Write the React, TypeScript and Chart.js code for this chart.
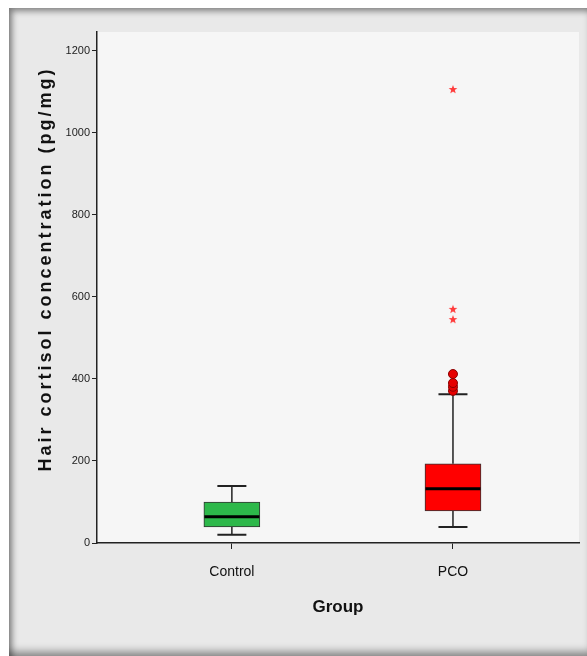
import React, { useEffect, useRef } from "react";
import { Chart, registerables } from "chart.js";

Chart.register(...registerables);

// ---- data ----
const categories = ["Control", "PCO"];
const whiskerMin = [20, 39];
const q1 = [39, 78];
const medians = [64, 132];
const q3 = [100, 193];
const whiskerMax = [139, 363];
const boxColors = ["#2db84a", "#ff0000"];
const circleOutliersPCO = [371, 381, 390, 412];
const starOutliersPCO = [546, 571, 1107];
const yTicks = [0, 200, 400, 600, 800, 1000, 1200];
const yMax = 1246;
const yTitle = "Hair cortisol concentration (pg/mg)";
const xTitle = "Group";

function makeStar(): HTMLCanvasElement {
  const c = document.createElement("canvas");
  const s = 10;
  c.width = s;
  c.height = s;
  const ctx = c.getContext("2d")!;
  ctx.fillStyle = "#ff3b3b";
  ctx.beginPath();
  const cx = s / 2, cy = s / 2 + 0.5, ro = 4.6, ri = 1.9;
  for (let i = 0; i < 10; i++) {
    const r = i % 2 === 0 ? ro : ri;
    const a = -Math.PI / 2 + (i * Math.PI) / 5;
    const px = cx + r * Math.cos(a);
    const py = cy + r * Math.sin(a);
    if (i === 0) ctx.moveTo(px, py);
    else ctx.lineTo(px, py);
  }
  ctx.closePath();
  ctx.fill();
  return c;
}

const boxPlugin = {
  id: "boxExtras",
  beforeDraw(chart: any) {
    const { ctx, chartArea } = chart;
    ctx.save();
    ctx.fillStyle = "#f6f6f6";
    ctx.fillRect(chartArea.left, chartArea.top, chartArea.right - chartArea.left, chartArea.bottom - chartArea.top);
    ctx.restore();
  },
  beforeDatasetsDraw(chart: any) {
    const { ctx } = chart;
    const xs = chart.scales.x;
    const ys = chart.scales.y;
    ctx.save();
    ctx.strokeStyle = "#222";
    categories.forEach((_, i) => {
      const x = xs.getPixelForValue(i + 1);
      ctx.lineWidth = 1.5;
      ctx.beginPath();
      ctx.moveTo(x, ys.getPixelForValue(whiskerMin[i]));
      ctx.lineTo(x, ys.getPixelForValue(q1[i]));
      ctx.moveTo(x, ys.getPixelForValue(q3[i]));
      ctx.lineTo(x, ys.getPixelForValue(whiskerMax[i]));
      ctx.stroke();
      ctx.lineWidth = 2;
      ctx.beginPath();
      [whiskerMin[i], whiskerMax[i]].forEach((v) => {
        const y = ys.getPixelForValue(v);
        ctx.moveTo(x - 14.5, y);
        ctx.lineTo(x + 14.5, y);
      });
      ctx.stroke();
    });
    ctx.restore();
  },
  afterDatasetsDraw(chart: any) {
    const { ctx } = chart;
    const xs = chart.scales.x;
    const ys = chart.scales.y;
    ctx.save();
    ctx.strokeStyle = "#000";
    ctx.lineWidth = 3;
    categories.forEach((_, i) => {
      const x = xs.getPixelForValue(i + 1);
      const y = ys.getPixelForValue(medians[i]);
      ctx.beginPath();
      ctx.moveTo(x - 27.5, y);
      ctx.lineTo(x + 27.5, y);
      ctx.stroke();
    });
    ctx.restore();
  },
  afterDraw(chart: any) {
    const { ctx, chartArea } = chart;
    ctx.save();
    ctx.fillStyle = "#111";
    ctx.textAlign = "center";
    ctx.textBaseline = "middle";
    // y title
    ctx.save();
    ctx.translate(37, 261);
    ctx.rotate(-Math.PI / 2);
    ctx.font = "bold 18px 'Liberation Sans', Arial, sans-serif";
    (ctx as any).letterSpacing = "3px";
    ctx.fillText(yTitle, 0, 0);
    ctx.restore();
    // x title
    ctx.font = "bold 17px 'Liberation Sans', Arial, sans-serif";
    ctx.fillText(xTitle, (chartArea.left + chartArea.right) / 2, 599);
    ctx.restore();
  },
};

export default function App() {
  const ref = useRef<HTMLCanvasElement | null>(null);

  useEffect(() => {
    if (!ref.current) return;
    const star = makeStar();
    const chart = new Chart(ref.current, {
      type: "bar",
      data: {
        datasets: [
          {
            type: "bar",
            data: categories.map((_, i) => ({ x: i + 1, y: [q1[i], q3[i]] })) as any,
            backgroundColor: boxColors,
            borderColor: "#333",
            borderWidth: 1,
            borderSkipped: false,
            barThickness: 56,
            order: 2,
          } as any,
          {
            type: "line",
            data: circleOutliersPCO.map((v) => ({ x: 2, y: v })),
            showLine: false,
            pointStyle: "circle",
            pointRadius: 4.5,
            pointBackgroundColor: "#e60000",
            pointBorderColor: "#8a0000",
            pointBorderWidth: 1,
            order: 1,
          } as any,
          {
            type: "line",
            data: starOutliersPCO.map((v) => ({ x: 2, y: v })),
            showLine: false,
            pointStyle: star,
            pointRadius: 5,
            order: 1,
          } as any,
        ],
      },
      options: {
        animation: false,
        responsive: false,
        devicePixelRatio: 1,
        layout: { padding: { top: 24, right: 8, left: 0, bottom: 0 } },
        plugins: { legend: { display: false }, tooltip: { enabled: false } },
        scales: {
          x: {
            type: "linear",
            min: 0.39,
            max: 2.57,
            offset: false,
            grid: { offset: false, drawOnChartArea: false, drawTicks: true, tickLength: 6, color: "#222" },
            border: { display: true, color: "#222", width: 1.5 },
            afterBuildTicks: (axis: any) => {
              axis.ticks = categories.map((_, i) => ({ value: i + 1 }));
            },
            afterFit: (scale: any) => {
              scale.height = 113;
            },
            ticks: {
              callback: (v: any) => categories[Math.round(Number(v)) - 1] ?? "",
              font: { family: "'Liberation Sans', Arial, sans-serif", size: 14 },
              color: "#111",
              padding: 15,
              maxRotation: 0,
              autoSkip: false,
            },
          },
          y: {
            type: "linear",
            min: 0,
            max: yMax,
            grid: { drawOnChartArea: false, drawTicks: true, tickLength: 5, color: "#222" },
            border: { display: true, color: "#222", width: 1.5 },
            afterBuildTicks: (axis: any) => {
              axis.ticks = yTicks.map((v) => ({ value: v }));
            },
            afterFit: (scale: any) => {
              scale.width = 88;
            },
            ticks: {
              callback: (v: any) => String(v),
              font: { family: "'Liberation Sans Narrow', 'Liberation Sans', Arial, sans-serif", size: 11 },
              color: "#222",
              padding: 2,
            },
          },
        },
      } as any,
      plugins: [boxPlugin],
    });
    return () => chart.destroy();
  }, []);

  return (
    <div
      style={{
        position: "absolute",
        left: 9,
        top: 8,
        width: 578,
        height: 648,
        background: "#e9e9e9",
        boxShadow:
          "inset 5px 5px 6px -2px rgba(0,0,0,0.45), inset 0 -9px 8px -5px rgba(0,0,0,0.45)",
      }}
    >
      <canvas ref={ref} width={578} height={648} style={{ display: "block", width: 578, height: 648 }} />
    </div>
  );
}
